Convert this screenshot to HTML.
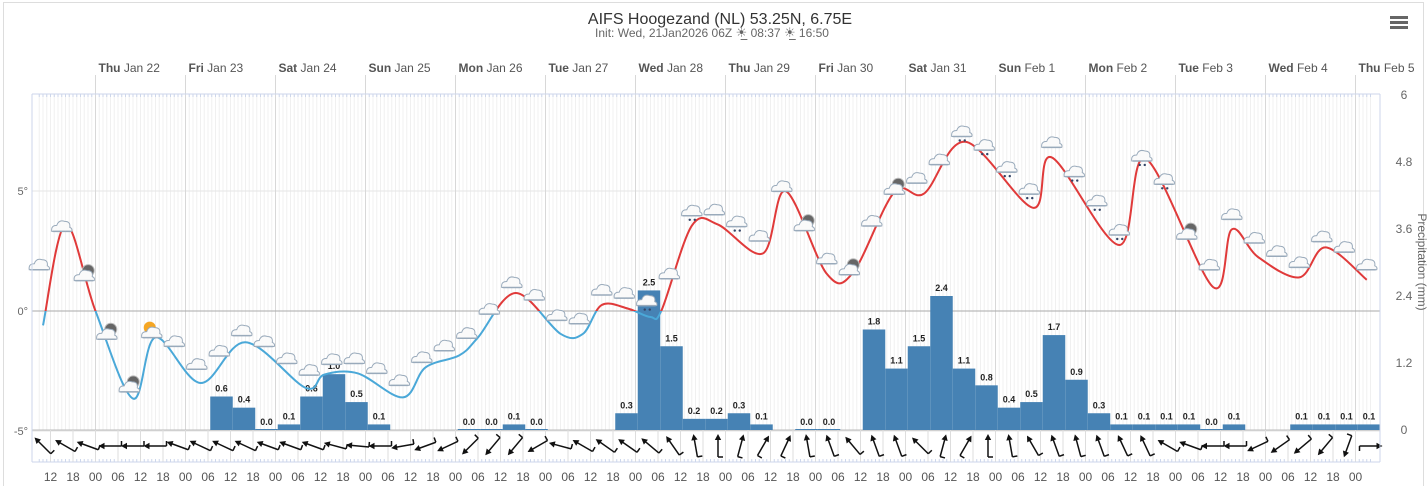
<!DOCTYPE html>
<html><head><meta charset="utf-8">
<style>
html,body{margin:0;padding:0;background:#fff;}
svg{display:block;font-family:"Liberation Sans","DejaVu Sans",sans-serif;}
</style></head>
<body>
<svg id="chart" width="1428" height="486" viewBox="0 0 1428 486">
  <rect x="3.5" y="2.5" width="1420" height="490" fill="#fff" stroke="#ddd"/>
  <text x="720" y="24" text-anchor="middle" font-size="16" fill="#333">AIFS Hoogezand (NL) 53.25N, 6.75E</text>
  <text x="712" y="37" text-anchor="middle" font-size="12" fill="#666">Init: Wed, 21Jan2026 06Z <tspan font-size="13">☀̲</tspan> 08:37 <tspan font-size="13">☀̲</tspan> 16:50</text>
  <g>
    <rect x="1390" y="16" width="18" height="3" fill="#666"/>
    <rect x="1390" y="21" width="18" height="3" fill="#666"/>
    <rect x="1390" y="26" width="18" height="3" fill="#666"/>
  </g>
  <g id="grid"></g>
  <g id="bars"></g>
  <g id="curve"></g>
  <g id="icons"></g>
  <g id="wind"></g>
  <g id="axes"></g>
</svg>
<script>
// ---- data ----
const dayLabels = ["Thu|Jan 22","Fri|Jan 23","Sat|Jan 24","Sun|Jan 25","Mon|Jan 26","Tue|Jan 27","Wed|Jan 28","Thu|Jan 29","Fri|Jan 30","Sat|Jan 31","Sun|Feb 1","Mon|Feb 2","Tue|Feb 3","Wed|Feb 4","Thu|Feb 5"];
const tempHours = [-14,-8,0,10,16,28,40,56,61,70,82,88,97,102,112,124,130,135,142,148,151,159,166,178,184,195,202,213,221,232,250,255,273,280,298,303,310,321,328,339];
const tempValues = [-0.6,3.6,0.0,-3.65,-1.1,-3.0,-1.3,-3.2,-2.65,-2.6,-3.6,-2.35,-1.85,-1.1,0.75,-0.95,-0.95,0.25,0.1,-0.25,0.05,3.55,3.6,2.4,5.0,1.55,1.6,4.95,4.9,7.05,4.3,6.4,2.75,6.35,1.0,3.4,2.25,1.4,2.65,1.3];
const precipValues = [0.6,0.4,0.0,0.1,0.6,1.0,0.5,0.1,null,null,null,0.0,0.0,0.1,0.0,null,null,null,0.3,2.5,1.5,0.2,0.2,0.3,0.1,null,0.0,0.0,null,1.8,1.1,1.5,2.4,1.1,0.8,0.4,0.5,1.7,0.9,0.3,0.1,0.1,0.1,0.1,0.0,0.1,null,null,0.1,0.1,0.1,0.1];
const precipStartHour = 30.6; // first 6h period start
const windDirs = [315,300,290,270,270,270,290,295,295,295,290,290,290,285,275,270,260,250,245,225,220,220,240,285,300,305,305,310,325,350,0,15,30,25,350,340,320,340,340,315,15,30,0,350,330,340,345,340,335,335,300,290,270,270,245,235,230,220,200,90];
const windStartHour = -14;
const hourTicks = ["12","18","00","06"];
const tempTicks = [5,0,-5];
const precipTicks = ["0","1.2","2.4","3.6","4.8","6"];
const iconKinds = ["c","c","m","m","m","s","c","c","c","c","c","c","c","c","c","c","c","c","c","c","c","c","c","c","c","c","c","r","c","r","c","r","c","c","m","c","m","c","m","c","c","r","r","r","r","c","r","r","r","r","r","m","c","c","c","c","c","c","c","c"];

// ---- scales ----
const X0 = 95.5, PX_H = 3.75, LEFT = 32, RIGHT = 1380, TOP = 94, BOT = 430;
const xs = h => X0 + h * PX_H;
const yT = t => 311 - 24 * t;
const yP = p => BOT - p * (335 / 6);
const NS = "http://www.w3.org/2000/svg";
function mk(tag, attrs, parent) {
  const e = document.createElementNS(NS, tag);
  for (const k in attrs) e.setAttribute(k, attrs[k]);
  parent.appendChild(e);
  return e;
}
const grid = document.getElementById('grid');
const axes = document.getElementById('axes');

// hourly grid
for (let h = -15; h <= 340; h++) {
  const x = xs(h);
  if (x < LEFT || x > RIGHT) continue;
  const l = mk('line', {x1:x, x2:x, y1:TOP, y2:BOT, stroke: '#f0f0f0', 'stroke-width':1}, grid);
  
  
  const t = mk('line', {x1:x, x2:x, y1:459, y2:462, stroke:'#ccd6eb', 'stroke-width':1}, grid);
  
  
  const t2 = mk('line', {x1:x, x2:x, y1:94, y2:97, stroke:'#ccd6eb', 'stroke-width':1}, grid);
  
  
}
// horizontal grid
[5,-5].forEach(t => {
  const l = mk('line', {x1:LEFT, x2:RIGHT, y1:yT(t), y2:yT(t), stroke:'#e6e6e6'}, grid);
  
  
});
// day lines and labels
dayLabels.forEach((d, i) => {
  const x = xs(24 * i);
  const l = mk('line', {x1:x, x2:x, y1:75, y2:462, stroke:'#d8d8d8'}, grid);
  
  
  const [a, b] = d.split('|');
  const t = mk('text', {x:x + 3, y:72, 'font-size':12, fill:'#555'}, axes);
  
  
  const s1 = mk('tspan', {'font-weight':'bold'}, t); s1.textContent = a;
  const s2 = mk('tspan', {}, t); s2.textContent = ' ' + b;
});
// frame lines
[[LEFT,TOP,LEFT,462],[RIGHT,TOP,RIGHT,462],[LEFT,TOP,RIGHT,TOP],[LEFT,462,RIGHT,462]].forEach(c => {
  const l = mk('line', {x1:c[0], y1:c[1], x2:c[2], y2:c[3], stroke:'#ccd6eb'}, axes);
  
  
});
// wind panel
const wl = mk('line', {x1:LEFT, x2:RIGHT, y1:BOT, y2:BOT, stroke:'#bbb'}, grid);


for (let h = -12; h <= 336; h += 6) {
  const x = xs(h);
  const l = mk('line', {x1:x, x2:x, y1:BOT, y2:462, stroke:'#ddd'}, grid);
  
  
}
const zl = mk('line', {x1:LEFT, x2:RIGHT, y1:yT(0), y2:yT(0), stroke:'#aaa'}, grid);



// bottom hour labels
for (let h = -12, j = 0; h <= 336; h += 6, j++) {
  const t = mk('text', {x:xs(h), y:481, 'text-anchor':'middle', 'font-size':12, fill:'#555'}, axes);
  
  
  t.textContent = hourTicks[j % 4];
}
// temp ticks
tempTicks.forEach(v => {
  const t = mk('text', {x:28, y:yT(v) + 4, 'text-anchor':'end', 'font-size':11, fill:'#666'}, axes);
  
  
  t.textContent = v + '°';
});
// precip ticks
precipTicks.forEach(v => {
  const t = mk('text', {x:1404, y:yP(parseFloat(v)) + 4, 'text-anchor':'middle', 'font-size':12, fill:'#666'}, axes);
  
  
  t.textContent = v;
});
const pt = mk('text', {x:1418, y:262, 'text-anchor':'middle', 'font-size':12, fill:'#666', transform:'rotate(90 1418 262)'}, axes);


pt.textContent = 'Precipitation (mm)';

// bars
const bars = document.getElementById('bars');
precipValues.forEach((v, k) => {
  if (v === null) return;
  const h0 = precipStartHour + 6 * k;
  const x0 = xs(h0), x1 = xs(h0 + 6);
  const y = yP(v);
  const r = mk('rect', {x:x0, y:Math.min(y, BOT - 1), width:x1 - x0, height:Math.max(BOT - y, 1), fill:'#4682b4'}, bars);
  
  
  const t = mk('text', {x:(x0 + x1) / 2, y:y - 5, 'text-anchor':'middle', 'font-size':9, 'font-weight':'bold', fill:'#222'}, bars);
  
  
  t.textContent = v.toFixed(1);
});

// temperature curve (catmull-rom)
const pts = tempHours.map((h, i) => [xs(h), yT(tempValues[i])]);
let d = 'M' + pts[0][0] + ',' + pts[0][1];
for (let i = 0; i < pts.length - 1; i++) {
  const p0 = pts[Math.max(i - 1, 0)], p1 = pts[i], p2 = pts[i + 1], p3 = pts[Math.min(i + 2, pts.length - 1)];
  const c1 = [p1[0] + (p2[0] - p0[0]) / 6, p1[1] + (p2[1] - p0[1]) / 6];
  const c2 = [p2[0] - (p3[0] - p1[0]) / 6, p2[1] - (p3[1] - p1[1]) / 6];
  d += ' C' + c1.join(',') + ' ' + c2.join(',') + ' ' + p2.join(',');
}
const curve = document.getElementById('curve');
const defs = mk('defs', {}, curve);
const cpA = mk('clipPath', {id:'above'}, defs);
mk('rect', {x:0, y:0, width:1428, height:yT(0)}, cpA);
const cpB = mk('clipPath', {id:'below'}, defs);
mk('rect', {x:0, y:yT(0), width:1428, height:486}, cpB);
const red = mk('path', {d:d, fill:'none', stroke:'#e03a3a', 'stroke-width':2, 'clip-path':'url(#above)'}, curve);


const blue = mk('path', {d:d, fill:'none', stroke:'#4aa8d8', 'stroke-width':2, 'clip-path':'url(#below)'}, curve);



// weather icons
function tempAt(h) {
  for (let i = 0; i < tempHours.length - 1; i++) {
    if (h >= tempHours[i] && h <= tempHours[i + 1]) {
      const f = (h - tempHours[i]) / (tempHours[i + 1] - tempHours[i]);
      return tempValues[i] + f * (tempValues[i + 1] - tempValues[i]);
    }
  }
  return tempValues[tempValues.length - 1];
}
const icons = document.getElementById('icons');
iconKinds.forEach((kind, k) => {
  const h = -15 + 6 * k;
  const x = xs(h);
  if (x > 1375) return;
  const y = yT(tempAt(h)) - (kind === 'm' ? 2 : 14);
  const g = mk('g', {transform:'translate(' + x + ',' + y + ')'}, icons);
  
  
  if (kind === 'm') mk('circle', {cx:4, cy:-6, r:6, fill:'#666', stroke:'#bbb'}, g);
  if (kind === 's') mk('circle', {cx:-2, cy:-6, r:6, fill:'#f5a623'}, g);
  mk('path', {d:'M-10,4 Q-11,-2 -5,-2 Q-3,-8 3,-6 Q9,-6 8,0 Q11,1 10,4 Z', fill:'#fafafa', stroke:'#9ab', 'stroke-width':1}, g);
  mk('line', {x1:-9, x2:9, y1:4, y2:4, stroke:'#9ab', 'stroke-width':1.5}, g);
  if (kind === 'r') { mk('circle', {cx:-2, cy:8, r:1.2, fill:'#346'}, g); mk('circle', {cx:3, cy:8, r:1.2, fill:'#346'}, g); }
});

// wind arrows: direction = where the arrowhead points (0 = up, clockwise)
const wind = document.getElementById('wind');
windDirs.forEach((dir, k) => {
  const x = xs(windStartHour + 6 * k), y = 446;
  const g = mk('g', {transform:'translate(' + x + ',' + y + ') rotate(' + dir + ')'}, wind);
  
  
  mk('line', {x1:0, y1:11, x2:0, y2:-8, stroke:'#111', 'stroke-width':1.5}, g);
  mk('path', {d:'M-3.2,-6 L0,-12 L3.2,-6 Z', fill:'#111'}, g);
  mk('line', {x1:0, y1:11, x2:5, y2:11, stroke:'#111', 'stroke-width':1.5}, g);
});
</script>
</body></html>
